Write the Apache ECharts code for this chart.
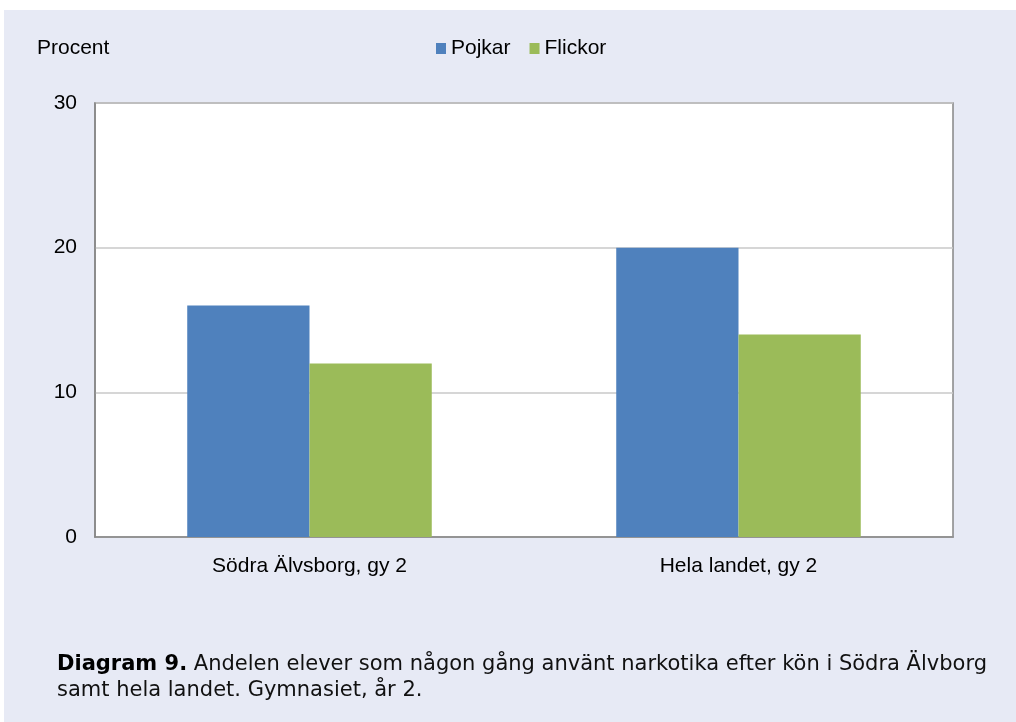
<!DOCTYPE html>
<html><head><meta charset="utf-8">
<script src="https://cdn.jsdelivr.net/npm/echarts@6/dist/echarts.min.js"></script>
<style>html,body{margin:0;padding:0;background:#fff}#c{width:1016px;height:722px}</style>
</head><body><div id="c"></div>
<script>
const categories = ['Södra Älvsborg, gy 2', 'Hela landet, gy 2'];
const pojkar = [16, 20];
const flickor = [12, 14];
const yTicks = [0, 10, 20, 30];

const chart = echarts.init(document.getElementById('c'));
const font = 'Liberation Sans, Arial, sans-serif';
chart.setOption({
  animation: false,
  backgroundColor: '#fff',
  graphic: [
    { type: 'rect', z: -10, shape: { x: 4, y: 10, width: 1012, height: 712 }, style: { fill: '#E7EAF5' } },
    { type: 'text', left: 37, top: 38, style: { text: 'Procent', font: '21px ' + font, fill: '#000' } },
    { type: 'text', left: 57, top: 652, style: {
        text: '{b|Diagram 9.} Andelen elever som någon gång använt narkotika efter kön i Södra Älvborg\nsamt hela landet. Gymnasiet, år 2.',
        rich: {
          b: { fontFamily: 'DejaVu Sans', fontSize: 21, fontWeight: 'bold', fill: '#000', lineHeight: 26 }
        },
        fontFamily: 'DejaVu Sans', fontSize: 21, fill: '#111', lineHeight: 26 } }
  ],
  legend: {
    top: 33, left: 431,
    itemWidth: 10, itemHeight: 11, itemGap: 19,
    icon: 'rect',
    textStyle: { fontFamily: font, fontSize: 21, color: '#000' },
    data: ['Pojkar', 'Flickor']
  },
  grid: { left: 95, top: 103, width: 858, height: 434, show: true, backgroundColor: '#fff', borderColor: '#868686', borderWidth: 1.5 },
  xAxis: {
    type: 'category', data: categories,
    axisLine: { lineStyle: { color: '#868686', width: 1.5 } },
    axisTick: { show: false },
    axisLabel: { fontFamily: font, fontSize: 21, color: '#000', margin: 19 }
  },
  yAxis: {
    type: 'value', min: 0, max: 30, interval: 10,
    axisLine: { show: true, lineStyle: { color: '#868686', width: 1.5 } },
    axisTick: { show: false },
    splitLine: { lineStyle: { color: '#C8C8C8', width: 1.5 } },
    axisLabel: { fontFamily: font, fontSize: 21, color: '#000', margin: 18,
      formatter: v => yTicks.includes(v) ? String(v) : '' }
  },
  series: [
    { name: 'Pojkar', type: 'bar', data: pojkar, barGap: '0%', barCategoryGap: '43%', itemStyle: { color: '#4F81BD' } },
    { name: 'Flickor', type: 'bar', data: flickor, itemStyle: { color: '#9BBB59' } }
  ]
});
</script></body></html>
